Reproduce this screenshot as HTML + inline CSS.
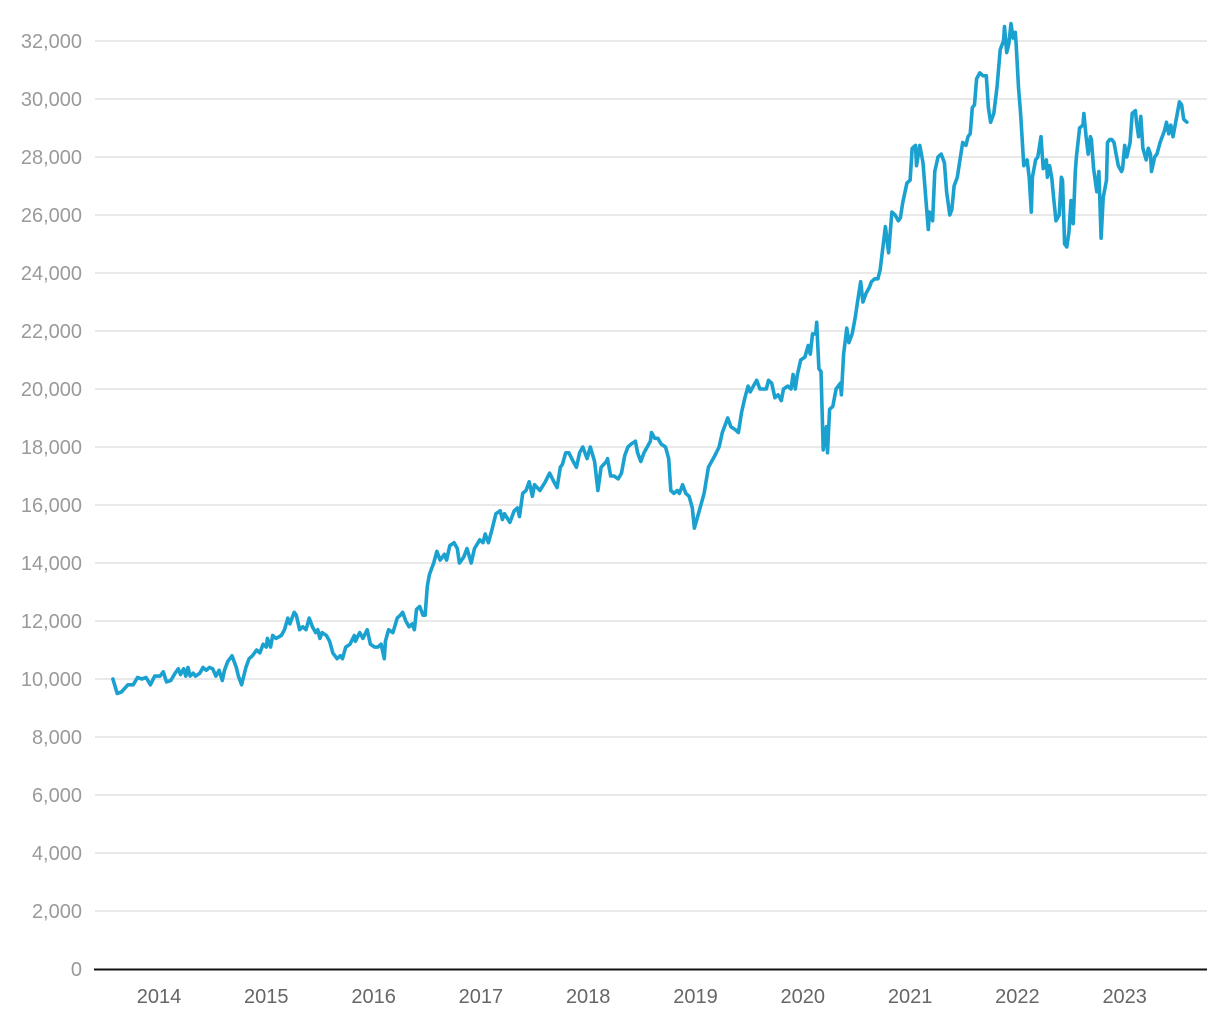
<!DOCTYPE html>
<html><head><meta charset="utf-8">
<style>
html,body{margin:0;padding:0;background:#fff;}
svg{display:block;font-family:"Liberation Sans",Arial,sans-serif;}
</style></head>
<body>
<svg id="chart" width="1220" height="1020" viewBox="0 0 1220 1020" xmlns="http://www.w3.org/2000/svg">
<g id="grid"></g>
<g id="yaxis"></g>
<g id="xaxis"></g>
<g id="series"></g>
</svg>
<script>
const yTicks = [0,2000,4000,6000,8000,10000,12000,14000,16000,18000,20000,22000,24000,26000,28000,30000,32000];
const yTickLabels = ["0","2,000","4,000","6,000","8,000","10,000","12,000","14,000","16,000","18,000","20,000","22,000","24,000","26,000","28,000","30,000","32,000"];
const xTicks = [2014,2015,2016,2017,2018,2019,2020,2021,2022,2023];
const xTickLabels = ["2014","2015","2016","2017","2018","2019","2020","2021","2022","2023"];
const dates = [2013.57,2013.61,2013.65,2013.71,2013.76,2013.80,2013.84,2013.88,2013.92,2013.96,2014.01,2014.04,2014.07,2014.11,2014.15,2014.18,2014.20,2014.23,2014.25,2014.27,2014.29,2014.32,2014.34,2014.38,2014.41,2014.44,2014.47,2014.50,2014.53,2014.56,2014.59,2014.61,2014.64,2014.68,2014.72,2014.74,2014.77,2014.81,2014.84,2014.87,2014.91,2014.94,2014.97,2015.00,2015.01,2015.04,2015.06,2015.09,2015.14,2015.17,2015.20,2015.22,2015.26,2015.28,2015.31,2015.34,2015.37,2015.40,2015.43,2015.46,2015.48,2015.50,2015.52,2015.56,2015.59,2015.62,2015.66,2015.69,2015.71,2015.74,2015.78,2015.82,2015.83,2015.87,2015.90,2015.94,2015.97,2016.01,2016.04,2016.07,2016.10,2016.11,2016.14,2016.18,2016.22,2016.25,2016.27,2016.30,2016.33,2016.36,2016.38,2016.40,2016.43,2016.46,2016.48,2016.50,2016.52,2016.56,2016.59,2016.62,2016.66,2016.68,2016.71,2016.75,2016.78,2016.80,2016.84,2016.87,2016.91,2016.94,2016.99,2017.02,2017.04,2017.07,2017.10,2017.14,2017.18,2017.20,2017.22,2017.27,2017.31,2017.34,2017.36,2017.39,2017.42,2017.45,2017.48,2017.50,2017.55,2017.60,2017.64,2017.68,2017.71,2017.74,2017.76,2017.79,2017.82,2017.86,2017.89,2017.92,2017.95,2017.99,2018.02,2018.06,2018.09,2018.12,2018.17,2018.18,2018.21,2018.24,2018.28,2018.31,2018.34,2018.37,2018.40,2018.44,2018.46,2018.49,2018.52,2018.55,2018.58,2018.59,2018.62,2018.65,2018.68,2018.72,2018.75,2018.77,2018.80,2018.83,2018.85,2018.88,2018.91,2018.94,2018.97,2018.99,2019.02,2019.05,2019.08,2019.12,2019.15,2019.18,2019.22,2019.25,2019.27,2019.30,2019.33,2019.37,2019.40,2019.43,2019.46,2019.49,2019.51,2019.54,2019.57,2019.60,2019.63,2019.66,2019.68,2019.71,2019.74,2019.77,2019.80,2019.82,2019.86,2019.89,2019.91,2019.93,2019.95,2019.98,2020.02,2020.05,2020.07,2020.09,2020.12,2020.13,2020.15,2020.17,2020.19,2020.22,2020.23,2020.25,2020.28,2020.31,2020.35,2020.36,2020.38,2020.41,2020.43,2020.46,2020.49,2020.51,2020.54,2020.56,2020.59,2020.62,2020.64,2020.67,2020.70,2020.72,2020.75,2020.77,2020.80,2020.83,2020.86,2020.89,2020.91,2020.93,2020.97,2021.00,2021.02,2021.05,2021.06,2021.09,2021.12,2021.15,2021.17,2021.18,2021.21,2021.23,2021.26,2021.29,2021.32,2021.34,2021.37,2021.39,2021.41,2021.44,2021.46,2021.49,2021.52,2021.54,2021.56,2021.58,2021.60,2021.62,2021.65,2021.68,2021.71,2021.73,2021.75,2021.78,2021.81,2021.84,2021.87,2021.88,2021.90,2021.92,2021.94,2021.96,2021.98,2021.99,2022.01,2022.03,2022.06,2022.09,2022.11,2022.13,2022.14,2022.17,2022.19,2022.22,2022.24,2022.27,2022.28,2022.30,2022.32,2022.34,2022.36,2022.39,2022.41,2022.42,2022.44,2022.46,2022.48,2022.50,2022.52,2022.54,2022.55,2022.58,2022.61,2022.62,2022.64,2022.66,2022.68,2022.69,2022.71,2022.74,2022.76,2022.78,2022.80,2022.83,2022.84,2022.86,2022.88,2022.90,2022.92,2022.94,2022.97,2022.98,2023.00,2023.02,2023.05,2023.07,2023.10,2023.11,2023.13,2023.15,2023.17,2023.20,2023.22,2023.24,2023.25,2023.28,2023.30,2023.33,2023.37,2023.39,2023.41,2023.43,2023.45,2023.49,2023.51,2023.53,2023.55,2023.58];
const values = [10000,9500,9550,9800,9800,10050,10000,10050,9800,10100,10100,10250,9900,9950,10200,10350,10150,10350,10100,10400,10100,10200,10100,10200,10400,10300,10400,10350,10100,10300,9950,10300,10600,10800,10400,10100,9800,10400,10700,10800,11000,10900,11200,11100,11400,11100,11500,11400,11500,11700,12100,11900,12300,12200,11700,11800,11700,12100,11800,11600,11700,11400,11600,11500,11300,10900,10700,10800,10700,11100,11200,11500,11300,11600,11400,11700,11200,11100,11100,11200,10700,11300,11700,11600,12100,12200,12300,12000,11800,11900,11700,12400,12500,12200,12200,13200,13600,14000,14400,14100,14300,14100,14600,14700,14500,14000,14200,14500,14000,14500,14800,14700,15000,14700,15100,15700,15800,15500,15700,15400,15800,15900,15600,16400,16500,16800,16300,16700,16500,16800,17100,16800,16600,17300,17400,17800,17800,17500,17300,17800,18000,17600,18000,17500,16500,17300,17500,17600,17000,17000,16900,17100,17700,18000,18100,18200,17800,17500,17800,18000,18200,18500,18300,18300,18100,18000,17600,16500,16400,16500,16400,16700,16400,16300,15900,15200,15600,16000,16400,17300,17500,17700,18000,18500,18700,19000,18700,18600,18500,19200,19700,20100,19900,20100,20300,20000,20000,20000,20300,20200,19700,19800,19600,20000,20100,20000,20500,20000,20500,21000,21100,21500,21200,21900,21900,22300,20700,20600,17900,18700,17800,19300,19400,20000,20200,19800,21200,22100,21600,21900,22500,23000,23700,23000,23300,23500,23700,23800,23800,24100,25000,25600,24700,26100,26000,25800,25900,26400,27100,27200,28300,28400,27700,28400,27800,26400,25500,26100,25800,27500,28000,28100,27800,26800,26000,26200,27000,27300,27800,28500,28400,28700,28800,29700,29800,30700,30900,30800,30800,29700,29200,29500,30400,31700,32000,32500,31600,31900,32600,32100,32300,31800,30400,29500,27700,27900,27300,26100,27300,27900,28000,28700,27600,27900,27300,27700,27300,26500,25800,26000,27300,27200,25000,24900,25400,26500,25700,27500,28000,29000,29100,29500,28700,28100,28700,28600,27600,26800,27500,25200,26600,27200,28500,28600,28600,28500,28100,27700,27500,27600,28400,28000,28500,29500,29600,29200,28700,29400,28300,27900,28300,28100,27500,28000,28100,28500,28900,29200,28800,29100,28700,29500,29900,29800,29300,29200];

const NS = "http://www.w3.org/2000/svg";
const plotLeft = 95, plotRight = 1207;
function xScale(t){ return 159 + (t - 2014) * 107.3; }
function yScale(v){ return 969 - v * 0.029; }
function mk(tag, attrs, parent){ const e = document.createElementNS(NS, tag); for (const k in attrs) e.setAttribute(k, attrs[k]); parent.appendChild(e); return e; }

const grid = document.getElementById('grid');
const yaxis = document.getElementById('yaxis');
const xaxis = document.getElementById('xaxis');
const series = document.getElementById('series');

yTicks.forEach((v, i) => {
  if (v !== 0) {
    const gl = mk('line', {x1: plotLeft, x2: plotRight, y1: yScale(v), y2: yScale(v), stroke: '#e2e2e2', 'stroke-width': 1.5}, grid);
    
    
  }
  const tx = mk('text', {x: 82, y: yScale(v) + 7, 'text-anchor': 'end', 'font-size': 20, fill: '#9a9a9a'}, yaxis);
  tx.textContent = yTickLabels[i];
  
  
});

const base = mk('line', {x1: 94, x2: plotRight, y1: 969.5, y2: 969.5, stroke: '#111', 'stroke-width': 2}, xaxis);



xTicks.forEach((t, i) => {
  const tx = mk('text', {x: xScale(t), y: 1003, 'text-anchor': 'middle', 'font-size': 20, fill: '#666'}, xaxis);
  tx.textContent = xTickLabels[i];
  
  
});

let d = '';
for (let i = 0; i < values.length; i++) {
  d += (i ? 'L' : 'M') + xScale(dates[i]).toFixed(1) + ',' + yScale(values[i]).toFixed(1);
}
const path = mk('path', {d: d, fill: 'none', stroke: '#1ba1cf', 'stroke-width': 3.6, 'stroke-linejoin': 'round', 'stroke-linecap': 'round'}, series);


</script>
</body></html>
